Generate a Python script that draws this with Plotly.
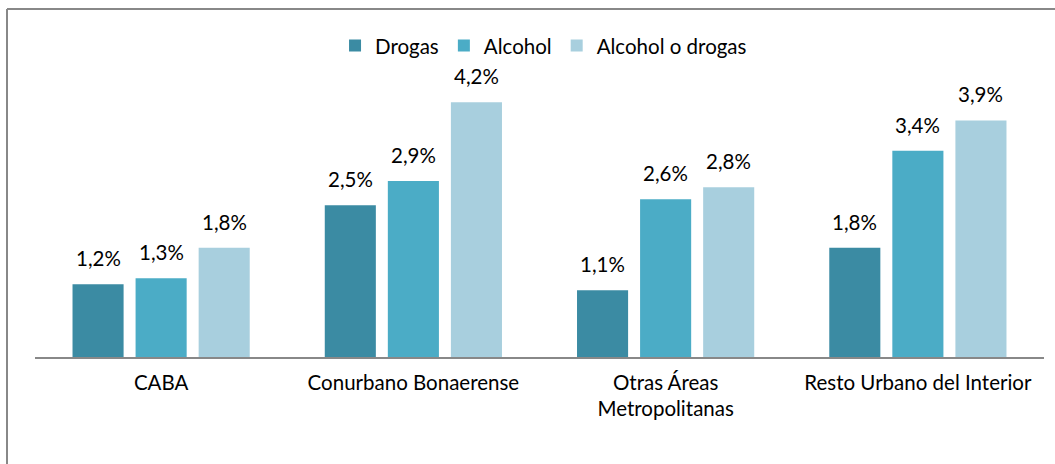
import plotly.graph_objects as go

categories = ["CABA", "Conurbano Bonaerense", "Otras Áreas<br>Metropolitanas", "Resto Urbano del Interior"]
series_names = ["Drogas", "Alcohol", "Alcohol o drogas"]
drogas = [1.2, 2.5, 1.1, 1.8]
alcohol = [1.3, 2.9, 2.6, 3.4]
alcohol_o_drogas = [1.8, 4.2, 2.8, 3.9]
colors = ["#3B8BA3", "#4BACC6", "#A8CFDE"]

FONT = "Lato"
FS = 20.5
values = [drogas, alcohol, alcohol_o_drogas]

fig = go.Figure()
for name, vals, col in zip(series_names, values, colors):
    fig.add_trace(go.Bar(
        x=categories, y=vals, name=name, marker_color=col,
        marker_line_width=0,
    ))

# value labels
offsets = [-63, 0, 63]
for vals, dx in zip(values, offsets):
    for c, v in zip(categories, vals):
        fig.add_annotation(
            x=c, y=v, text=f"{v:.1f}".replace(".", ",") + "%",
            showarrow=False, yanchor="bottom", yshift=12, xshift=dx,
            font=dict(family=FONT, size=FS, color="#000000"),
        )

# outer frame lines (left and top)
fx = (7 - 35) / 1009
fy = (357 - 9) / 273
fig.add_shape(type="line", xref="paper", yref="paper", x0=fx, x1=fx, y0=-0.6, y1=fy,
              line=dict(color="#888888", width=2))
fig.add_shape(type="line", xref="paper", yref="paper", x0=fx, x1=1.2, y0=fy, y1=fy,
              line=dict(color="#888888", width=2))

fig.update_layout(
    width=1055, height=464,
    margin=dict(l=35, r=11, t=84, b=107),
    paper_bgcolor="white", plot_bgcolor="white",
    barmode="group", bargap=0.25, bargroupgap=0.19,
    font=dict(family=FONT, size=FS, color="#000000"),
    legend=dict(orientation="h", x=0.504, xanchor="center", y=1.14, yanchor="middle",
                font=dict(family=FONT, size=FS), itemwidth=30, traceorder="normal"),
    xaxis=dict(showline=True, linecolor="#888888", linewidth=2, ticks="",
               ticklabelstandoff=6,
               tickfont=dict(family=FONT, size=FS, color="#000000")),
    yaxis=dict(range=[0, 4.5], visible=False, showgrid=False),
    showlegend=True,
)

fig.write_html("out.html", config={"displayModeBar": False},
               post_script="document.body.style.margin='0';")
